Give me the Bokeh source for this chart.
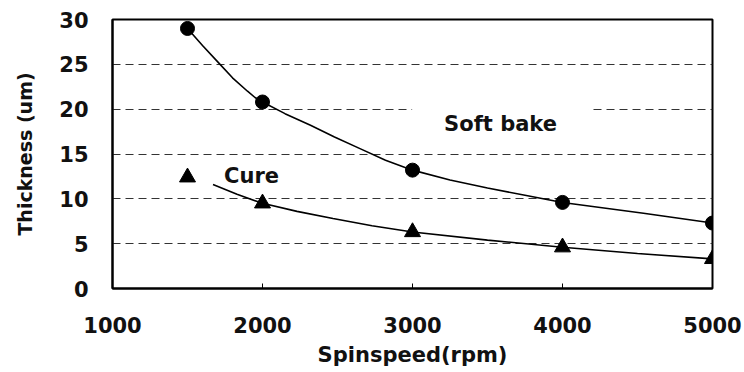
from bokeh.plotting import figure
from bokeh.models import Label, FixedTicker
from bokeh.embed import file_html
from bokeh.resources import INLINE

# Measured data points
speeds = [1500, 2000, 3000, 4000, 5000]
soft_bake = [29.0, 20.8, 13.2, 9.6, 7.3]
cure = [12.4, 9.5, 6.3, 4.6, 3.3]

# Trend curves
soft_curve_x = [1500, 1600, 1700, 1800, 1900, 1950, 2000, 2150, 2320, 2480, 2650,
                2820, 3000, 3250, 3500, 3750, 4000, 4540, 5000]
soft_curve_y = [29.0, 27.1, 25.3, 23.5, 22.0, 21.3, 20.8, 19.5, 18.2, 16.9, 15.6,
                14.3, 13.2, 12.1, 11.2, 10.4, 9.6, 8.4, 7.3]
cure_curve_x = [1670, 1830, 2000, 2230, 2470, 2730, 3000, 3500, 4000, 4500, 5000]
cure_curve_y = [11.6, 10.5, 9.5, 8.6, 7.8, 7.0, 6.3, 5.4, 4.6, 3.9, 3.3]

x_ticks = [1000, 2000, 3000, 4000, 5000]
y_ticks = [0, 5, 10, 15, 20, 25, 30]

FONT = "DejaVu Sans"

p = figure(width=744, height=372, x_range=(1000, 5000), y_range=(0, 30),
           output_backend="svg", toolbar_location=None,
           min_border_left=112, min_border_right=32,
           min_border_top=19, min_border_bottom=84)

p.background_fill_color = "white"
p.border_fill_color = "white"
p.outline_line_color = "black"
p.outline_line_width = 2
p.outline_line_alpha = 1

p.xgrid.visible = False
p.ygrid.ticker = FixedTicker(ticks=y_ticks)
p.ygrid.grid_line_color = "#333333"
p.ygrid.grid_line_width = 1
p.ygrid.grid_line_dash = "8 5"

p.xaxis.ticker = FixedTicker(ticks=x_ticks)
p.yaxis.ticker = FixedTicker(ticks=y_ticks)

for ax in (p.xaxis[0], p.yaxis[0]):
    ax.axis_line_color = "black"
    ax.axis_line_width = 2
    ax.major_label_text_font = FONT
    ax.major_label_text_font_style = "bold"
    ax.major_label_text_font_size = "21px"
    ax.major_label_text_color = "#111111"
    ax.axis_label_text_font = FONT
    ax.axis_label_text_font_style = "bold"
    ax.axis_label_text_color = "#111111"
    ax.minor_tick_line_color = None

p.xaxis.major_tick_in = 5
p.xaxis.major_tick_out = 0
p.xaxis.major_tick_line_width = 1
p.xaxis.major_label_standoff = 28
p.xaxis.axis_label = "Spinspeed(rpm)"
p.xaxis.axis_label_text_font_size = "21px"
p.xaxis.axis_label_standoff = 7

p.yaxis.major_tick_in = 0
p.yaxis.major_tick_out = 0
p.yaxis.major_label_standoff = 24
p.yaxis.axis_label = "Thickness (um)"
p.yaxis.axis_label_text_font_size = "19px"
p.yaxis.axis_label_standoff = 20

p.line(soft_curve_x, soft_curve_y, line_color="black", line_width=1.6)
p.line(cure_curve_x, cure_curve_y, line_color="black", line_width=1.6)
p.scatter(speeds, soft_bake, marker="circle", size=14, color="black")
p.scatter(speeds, cure, marker="triangle", size=16, color="black")

p.add_layout(Label(x=3587, y=18.3, text="Soft bake", text_align="center",
                   text_baseline="middle", text_font=FONT, text_font_style="bold",
                   text_font_size="21px", text_color="#111111",
                   background_fill_color="white", background_fill_alpha=1,
                   padding=(32, 32, 8, 8)))
p.add_layout(Label(x=1927, y=12.6, text="Cure", text_align="center",
                   text_baseline="middle", text_font=FONT, text_font_style="bold",
                   text_font_size="21px", text_color="#111111"))

open("out.html", "w").write(file_html(p, INLINE))
